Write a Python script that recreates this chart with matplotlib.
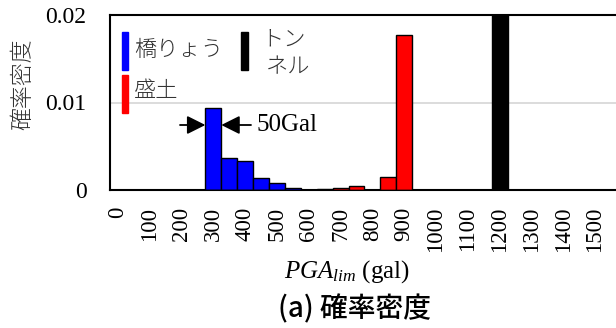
import matplotlib
matplotlib.use('Agg')
import matplotlib.pyplot as plt
from matplotlib.patches import Rectangle

# ---- data -------------------------------------------------------------
categories = list(range(0, 1600, 50))          # PGA_lim bins (gal), 32 bins
bridge = [0, 0, 0, 0, 0, 0,
          0.0094, 0.0037, 0.0033, 0.0014, 0.00085, 0.00026, 0.00003, 0.00008,
          0, 0, 0, 0, 0, 0, 0, 0, 0, 0, 0, 0, 0, 0, 0, 0, 0, 0]
embankment = [0, 0, 0, 0, 0, 0, 0, 0, 0, 0, 0, 0, 0, 0,
              0.0002, 0.00046, 0, 0.00145, 0.0177,
              0, 0, 0, 0, 0, 0, 0, 0, 0, 0, 0, 0, 0]
tunnel = [0, 0, 0, 0, 0, 0, 0, 0, 0, 0, 0, 0, 0, 0, 0, 0, 0, 0, 0, 0, 0, 0, 0, 0,
          0.02, 0, 0, 0, 0, 0, 0, 0]
xtick_values = list(range(0, 1600, 100))
ytick_values = [0, 0.01, 0.02]
ytick_labels = ['0', '0.01', '0.02']

W, H = 616, 328
fig = plt.figure(figsize=(W / 100, H / 100), dpi=100)

def fx(px):
    return px / W

def fy(py):
    return 1 - py / H

ax_left, ax_top, ax_bottom = 110, 15, 190
cat_w = 15.9
n = len(categories)
ax = fig.add_axes([fx(ax_left), fy(ax_bottom), n * cat_w / W, (ax_bottom - ax_top) / H])

x = list(range(n))
ax.bar(x, bridge, width=1.0, color='#0000ff', edgecolor='black', linewidth=1.0, zorder=3)
ax.bar(x, embankment, width=1.0, color='#ff0000', edgecolor='black', linewidth=1.0, zorder=3)
ax.bar(x, tunnel, width=1.0, color='black', edgecolor='black', linewidth=1.0, zorder=3)

ax.set_xlim(-0.5, n - 0.5)
ax.set_ylim(0, 0.02)

serif = 'Liberation Serif'
tick_idx = [categories.index(v) for v in xtick_values]
ax.set_xticks(tick_idx)
ax.set_xticklabels([str(v) for v in xtick_values], rotation=90, fontsize=16.5,
                   family=serif, va='top', ha='center')
ax.set_yticks(ytick_values)
ax.set_yticklabels(ytick_labels, fontsize=17, family=serif)
ax.tick_params(axis='x', length=0, pad=12)
ax.tick_params(axis='y', length=0, pad=17)

ax.yaxis.grid(True, color='#d9d9d9', linewidth=1.3)
ax.set_axisbelow(True)
for s in ['left', 'bottom', 'top']:
    ax.spines[s].set_linewidth(1.5)
ax.spines['right'].set_visible(False)

# ---- 50Gal arrows ------------------------------------------------------
def dx(px):
    return (px - ax_left) / cat_w - 0.5

def dy(py):
    return (ax_bottom - py) / (ax_bottom - ax_top) * 0.02

ya = dy(125)
peak = bridge.index(max(bridge))
ap = dict(arrowstyle='-|>', color='black', lw=1.3, mutation_scale=28,
          shrinkA=0, shrinkB=0)
ax.annotate('', xy=(peak - 0.5, ya), xytext=(dx(180), ya), arrowprops=ap, zorder=5)
ax.annotate('', xy=(peak + 0.5, ya), xytext=(dx(251), ya), arrowprops=ap, zorder=5)
ax.text(dx(256), ya, '50Gal', fontsize=18, family=serif, va='center', ha='left')

# ---- legend (custom) ---------------------------------------------------
jp = ['Noto Sans CJK JP', 'DejaVu Sans']
def legend_bar(x0, y0, x1, y1, color):
    fig.patches.append(Rectangle((fx(x0), fy(y1)), fx(x1) - fx(x0), fy(y0) - fy(y1),
                                 transform=fig.transFigure, color=color, zorder=10))

legend_bar(122, 32, 128, 70, '#0000ff')
legend_bar(122, 75, 128, 113, '#ff0000')
legend_bar(241, 32, 248, 70, 'black')
fig.text(fx(134), fy(50), '橋りょう', fontsize=16, family=jp, va='center', ha='left',
         color='#333333', fontweight='light')
fig.text(fx(134), fy(91), '盛土', fontsize=16, family=jp, va='center', ha='left',
         color='#333333', fontweight='light')
fig.text(fx(261), fy(40), 'トン', fontsize=16, family=jp, va='center', ha='left',
         color='#333333', fontweight='light')
fig.text(fx(266), fy(67), 'ネル', fontsize=16, family=jp, va='center', ha='left',
         color='#333333', fontweight='light')

# ---- axis labels / caption --------------------------------------------
plt.rcParams['mathtext.fontset'] = 'custom'
plt.rcParams['mathtext.it'] = 'Liberation Serif:italic'
plt.rcParams['mathtext.rm'] = 'Liberation Serif'
fig.text(fx(347), fy(278), r'$PGA_{lim}$ (gal)', fontsize=18, family=serif,
         ha='center', va='baseline')
fig.text(fx(23), fy(84), '確率密度', fontsize=16.5, family=jp, rotation=90,
         ha='center', va='center', color='#333333', fontweight='light')
fig.text(fx(354), fy(309), '(a) 確率密度', fontsize=20, family=jp,
         ha='center', va='center', fontweight='medium')

fig.savefig('out.png', dpi=100)
